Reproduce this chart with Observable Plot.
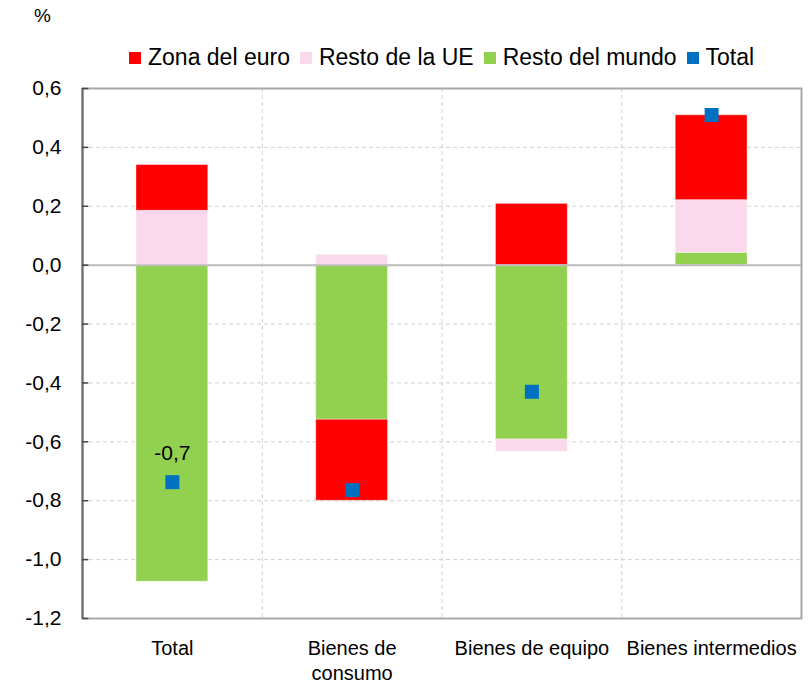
<!DOCTYPE html>
<html>
<head>
<meta charset="utf-8">
<script src="https://cdn.jsdelivr.net/npm/d3@7"></script>
<script src="https://cdn.jsdelivr.net/npm/@observablehq/plot@0.6"></script>
<style>
  html, body { margin: 0; padding: 0; background: #fff; }
  body { font-family: "Liberation Sans", Arial, Helvetica, sans-serif; color: #000; }
  #wrap { position: relative; width: 810px; height: 685px; }
  #unit { position: absolute; left: 34px; top: 5px; font-size: 19px; }
  #legend { position: absolute; left: 129px; top: 44px; display: flex; align-items: center; font-size: 23px; white-space: nowrap; }
  #legend .item { display: flex; align-items: center; margin-right: 10px; }
  #legend .sw { width: 12px; height: 12px; margin-right: 7px; }
  svg { display: block; }
</style>
</head>
<body>
<div id="wrap">
  <div id="unit">%</div>
  <div id="legend"></div>
  <div id="chart"></div>
</div>
<script>
// ---- data ----
const categories = ["Total", "Bienes de\nconsumo", "Bienes de equipo", "Bienes intermedios"];
const seriesStackOrder = ["Resto del mundo", "Resto de la UE", "Zona del euro"];
const legendOrder = ["Zona del euro", "Resto de la UE", "Resto del mundo", "Total"];
const zonaEuro = [0.155, -0.275, 0.208, 0.288];
const restoUE = [0.185, 0.035, -0.042, 0.179];
const restoMundo = [-1.075, -0.525, -0.592, 0.042];
const total = [-0.737, -0.764, -0.43, 0.51];
const labelledTotals = ["Total"];
const yTicks = [-1.2, -1.0, -0.8, -0.6, -0.4, -0.2, 0.0, 0.2, 0.4, 0.6];
const colors = {
  "Zona del euro": "#FF0000",
  "Resto de la UE": "#FBD9EC",
  "Resto del mundo": "#92D050",
  "Total": "#0070C0"
};

// ---- tables ----
const seriesValues = {"Zona del euro": zonaEuro, "Resto de la UE": restoUE, "Resto del mundo": restoMundo};
const rows = [];
seriesStackOrder.forEach(s => categories.forEach((c, i) => rows.push({i, i2: i + 1, category: c, series: s, value: seriesValues[s][i]})));
const totRows = categories.map((c, i) => ({i, mid: i + 0.5, category: c, total: total[i]}));
const fmt = v => v.toFixed(1).replace(".", ",");

// ---- legend ----
const legend = document.getElementById("legend");
legendOrder.forEach(s => {
  const it = document.createElement("div"); it.className = "item";
  const sw = document.createElement("div"); sw.className = "sw"; sw.style.background = colors[s];
  const tx = document.createElement("span"); tx.textContent = s;
  it.appendChild(sw); it.appendChild(tx); legend.appendChild(it);
});

// ---- chart ----
const chart = Plot.plot({
  width: 810,
  height: 685,
  marginLeft: 82,
  marginRight: 9,
  marginTop: 88,
  marginBottom: 67,
  style: {fontFamily: '"Liberation Sans", Arial, Helvetica, sans-serif', color: "#000", background: "#fff"},
  x: {type: "linear", domain: [0, categories.length], axis: null},
  y: {domain: [-1.2, 0.6], axis: null},
  color: {domain: Object.keys(colors), range: Object.values(colors)},
  marks: [
    Plot.ruleY(yTicks, {stroke: "#d0d0d0", strokeWidth: 1, strokeDasharray: "4,3"}),
    Plot.ruleX(d3.range(1, categories.length), {stroke: "#d0d0d0", strokeWidth: 1, strokeDasharray: "4,3"}),
    Plot.rectY(rows, Plot.stackY({
      x: "i", x1: "i", x2: "i2", y: "value", fill: "series", z: "series",
      order: seriesStackOrder, insetLeft: 54, insetRight: 54,
      stroke: "#fff", strokeOpacity: 0.35, strokeWidth: 1
    })),
    Plot.ruleY([0], {stroke: "#bdbdbd", strokeWidth: 2}),
    Plot.frame({stroke: "#a8a8a8", strokeWidth: 2}),
    Plot.ruleX([0], {stroke: "#6a6a6a", strokeWidth: 2}),
    Plot.ruleY(yTicks, {x1: 0, x2: 0.035, stroke: "#444", strokeWidth: 1.5}),
    Plot.dot(totRows, {x: "mid", y: "total", symbol: "square", r: 7.9, fill: colors["Total"], stroke: null}),
    Plot.text(totRows.filter(d => labelledTotals.includes(d.category)), {
      x: "mid", y: "total", text: d => fmt(d.total), dy: -29, fontSize: 21, fill: "#000"
    }),
    Plot.axisY({ticks: yTicks, tickFormat: fmt, tickSize: 0, tickPadding: 21, fontSize: 21, label: null}),
    Plot.axisX({
      ticks: categories.map((c, i) => i + 0.5),
      tickFormat: d => categories[Math.floor(d)],
      tickSize: 0, tickPadding: 19, fontSize: 20, lineHeight: 1.25, label: null
    })
  ]
});
document.getElementById("chart").appendChild(chart);
</script>
</body>
</html>
